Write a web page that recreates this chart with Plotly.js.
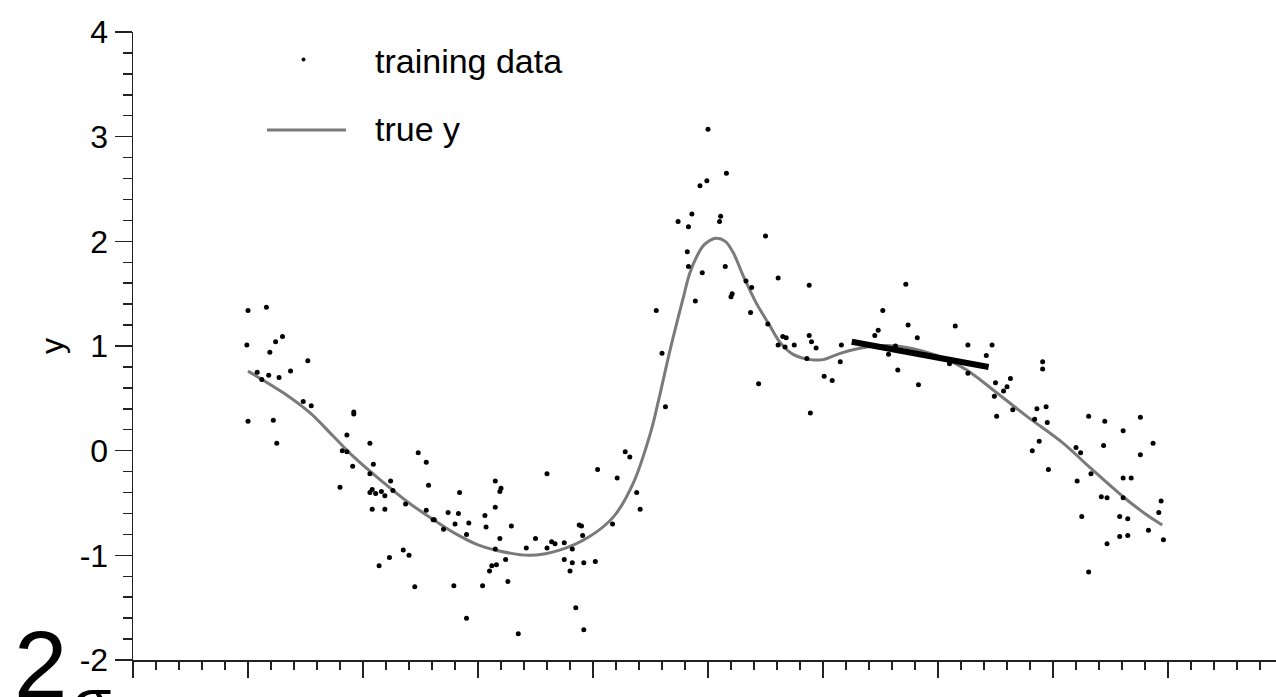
<!DOCTYPE html>
<html><head><meta charset="utf-8">
<script src="https://cdn.plot.ly/plotly-3.0.1.min.js"></script>
<style>html,body{margin:0;padding:0;background:#fff;}#chart{width:1276px;height:697px;}</style>
</head><body><div id="chart"></div>
<script>
// training data (x, y)
const trainX = [0.00,0.16,-0.01,0.24,0.30,0.19,0.52,0.08,0.12,0.18,0.27,0.37,0.48,0.55,0.00,0.22,0.25,0.92,0.92,0.86,1.06,0.82,0.86,0.91,1.09,1.06,1.48,1.55,0.80,1.24,1.08,1.06,1.11,1.16,1.19,1.26,1.57,1.84,1.08,1.19,1.37,1.55,1.61,1.62,1.74,1.83,1.80,1.70,1.35,1.40,1.23,1.14,1.45,1.79,
3.63,3.28,3.32,3.04,3.21,2.60,2.15,2.20,2.19,3.38,3.41,2.15,2.06,1.92,2.07,2.29,1.90,3.17,2.88,2.90,2.91,2.19,2.50,2.15,2.42,2.60,2.64,2.67,2.75,2.82,2.24,2.12,2.16,2.10,2.75,2.82,2.92,3.02,2.80,2.26,2.04,2.85,1.90,2.92,2.35,
3.60,4.44,4.65,4.68,4.61,4.67,4.00,4.16,3.99,3.93,3.86,3.74,3.83,4.11,4.10,4.50,3.82,3.83,3.95,4.15,3.89,3.55,4.33,4.38,4.21,4.20,4.61,4.88,4.37,4.52,4.75,4.88,4.90,4.94,5.16,
5.72,5.52,5.48,5.45,5.74,5.82,6.15,5.63,5.57,6.26,6.47,6.42,6.10,4.86,5.15,5.65,6.26,5.01,5.08,5.83,6.50,6.63,6.60,6.57,6.49,4.89,6.65,6.51,
6.91,6.91,6.86,6.94,6.84,6.95,6.88,6.82,6.96,7.31,7.45,7.76,7.61,7.44,7.87,7.76,7.20,7.24,7.33,7.21,7.61,7.68,7.42,7.47,7.61,7.94,7.92,7.25,7.58,7.65,7.83,7.96,7.58,7.65,7.47,7.31];
const trainY = [1.34,1.37,1.01,1.04,1.09,0.94,0.86,0.75,0.68,0.72,0.70,0.76,0.47,0.43,0.28,0.29,0.07,0.37,0.35,0.15,0.07,0.00,-0.01,-0.15,-0.13,-0.22,-0.02,-0.11,-0.35,-0.29,-0.37,-0.40,-0.41,-0.39,-0.43,-0.38,-0.33,-0.40,-0.56,-0.56,-0.51,-0.57,-0.66,-0.66,-0.59,-0.60,-0.70,-0.75,-0.95,-1.00,-1.02,-1.10,-1.30,-1.29,
0.42,-0.01,-0.06,-0.18,-0.26,-0.22,-0.29,-0.36,-0.39,-0.40,-0.56,-0.54,-0.62,-0.69,-0.73,-0.72,-0.80,-0.70,-0.71,-0.72,-0.81,-0.84,-0.84,-0.94,-0.93,-0.93,-0.87,-0.89,-0.88,-0.94,-1.04,-1.10,-1.09,-1.15,-1.04,-1.07,-1.07,-1.06,-1.15,-1.25,-1.29,-1.50,-1.60,-1.71,-1.75,
0.93,0.64,1.09,1.08,1.01,0.99,3.07,2.65,2.58,2.53,2.26,2.19,2.14,2.24,2.19,2.05,1.90,1.76,1.70,1.76,1.43,1.34,1.62,1.56,1.50,1.47,1.65,1.58,1.32,1.21,1.01,1.10,1.04,0.98,1.01,
1.59,1.34,1.15,1.10,1.20,1.08,1.19,1.00,0.92,1.01,1.01,0.91,0.83,0.88,0.85,0.77,0.74,0.71,0.67,0.63,0.65,0.69,0.61,0.57,0.52,0.36,0.39,0.33,
0.85,0.78,0.40,0.42,0.30,0.27,0.09,0.00,-0.18,0.33,0.28,0.32,0.19,0.05,0.07,-0.04,0.03,-0.02,-0.22,-0.29,-0.26,-0.26,-0.44,-0.45,-0.45,-0.48,-0.59,-0.63,-0.63,-0.65,-0.76,-0.85,-0.82,-0.81,-0.89,-1.16];
// true y curve
const trueX = [0.00,0.31,0.54,0.74,0.92,1.15,1.40,1.60,1.80,2.00,2.15,2.45,2.71,2.97,3.18,3.35,3.50,3.57,3.67,3.78,3.84,3.90,3.97,4.07,4.15,4.22,4.31,4.42,4.54,4.63,4.74,4.89,5.00,5.15,5.38,5.64,5.87,6.08,6.25,6.48,6.77,7.09,7.32,7.61,7.81,7.95];
const trueY = [0.76,0.55,0.36,0.14,-0.06,-0.28,-0.50,-0.65,-0.79,-0.90,-0.95,-1.00,-0.95,-0.82,-0.63,-0.31,0.17,0.48,0.96,1.44,1.69,1.85,1.97,2.03,2.00,1.89,1.66,1.41,1.19,1.03,0.92,0.87,0.87,0.93,0.99,1.00,0.95,0.87,0.77,0.58,0.33,0.07,-0.16,-0.44,-0.61,-0.71];
// local linear fit segment
const fitX = [5.25, 6.44];
const fitY = [1.04, 0.80];
// ticks and labels
const yTickVals = [-2,-1,0,1,2,3,4];
const yTickText = ['-2','-1','0','1','2','3','4'];
const legendLabels = ['training data','true y'];
const axisTitle = 'y';
const cornerGlyphs = ['2','σ'];

const FONT = 'Liberation Sans, Arial, Helvetica, sans-serif';
const W = 1276, H = 697, L = 133, T = 32, B = 37, R = 0;
const px2x = p => (p - L) / (W - L - R);
const px2y = p => (H - B - p) / (H - T - B);

const traces = [
  {x: trueX, y: trueY, mode: 'lines', line: {color: '#7a7a7a', width: 3, shape: 'spline', smoothing: 1}, name: legendLabels[1], showlegend: false, hoverinfo: 'skip'},
  {x: trainX, y: trainY, mode: 'markers', marker: {color: '#000', size: 5}, name: legendLabels[0], showlegend: false},
  {x: fitX, y: fitY, mode: 'lines', line: {color: '#000', width: 6}, showlegend: false, hoverinfo: 'skip'}
];

const layout = {
  width: W, height: H,
  margin: {l: L, r: R, t: T, b: B, pad: 0},
  paper_bgcolor: '#fff', plot_bgcolor: '#fff',
  font: {family: FONT, size: 32, color: '#000'},
  showlegend: false,
  xaxis: {
    range: [-1, (W - 248) / 115], showgrid: false, zeroline: false,
    showline: true, linecolor: '#222', linewidth: 1.5,
    ticks: 'outside', tick0: -1, dtick: 1, ticklen: 16, tickwidth: 1.5, tickcolor: '#222',
    showticklabels: false,
    minor: {dtick: 0.2, tick0: 0, ticks: 'outside', ticklen: 8, tickwidth: 1.5, tickcolor: '#222', showgrid: false}
  },
  yaxis: {
    range: [-2, 4], showgrid: false, zeroline: false,
    showline: true, linecolor: '#222', linewidth: 1.5,
    ticks: 'outside', tickmode: 'array', tickvals: yTickVals, ticktext: yTickText,
    ticklen: 17, tickwidth: 1.5, tickcolor: '#222',
    tickfont: {family: FONT, size: 32, color: '#000'},
    minor: {dtick: 0.2, tick0: 0, ticks: 'outside', ticklen: 9, tickwidth: 1.5, tickcolor: '#222', showgrid: false},
    title: {text: axisTitle, font: {family: FONT, size: 32, color: '#000'}, standoff: 6}
  },
  shapes: [
    {type: 'line', xref: 'paper', yref: 'paper', x0: px2x(267), x1: px2x(346), y0: px2y(130), y1: px2y(130), line: {color: '#7a7a7a', width: 3}},
    {type: 'circle', xref: 'paper', yref: 'paper', x0: px2x(301.5), x1: px2x(305.5), y0: px2y(61.5), y1: px2y(57.5), fillcolor: '#000', line: {width: 0}}
  ],
  annotations: [
    {xref: 'paper', yref: 'paper', x: px2x(373), y: px2y(61), xanchor: 'left', yanchor: 'middle', text: legendLabels[0], showarrow: false, font: {family: FONT, size: 34, color: '#000'}},
    {xref: 'paper', yref: 'paper', x: px2x(373), y: px2y(129), xanchor: 'left', yanchor: 'middle', text: legendLabels[1], showarrow: false, font: {family: FONT, size: 34, color: '#000'}},
    {xref: 'paper', yref: 'paper', x: px2x(12), y: px2y(609), xanchor: 'left', yanchor: 'top', text: cornerGlyphs[0], showarrow: false, font: {family: FONT, size: 96, color: '#000'}},
    {xref: 'paper', yref: 'paper', x: px2x(70), y: px2y(664), xanchor: 'left', yanchor: 'top', text: cornerGlyphs[1], showarrow: false, font: {family: FONT, size: 64, color: '#000'}}
  ]
};

Plotly.newPlot('chart', traces, layout, {displayModeBar: false, staticPlot: true});
</script>
</body></html>
